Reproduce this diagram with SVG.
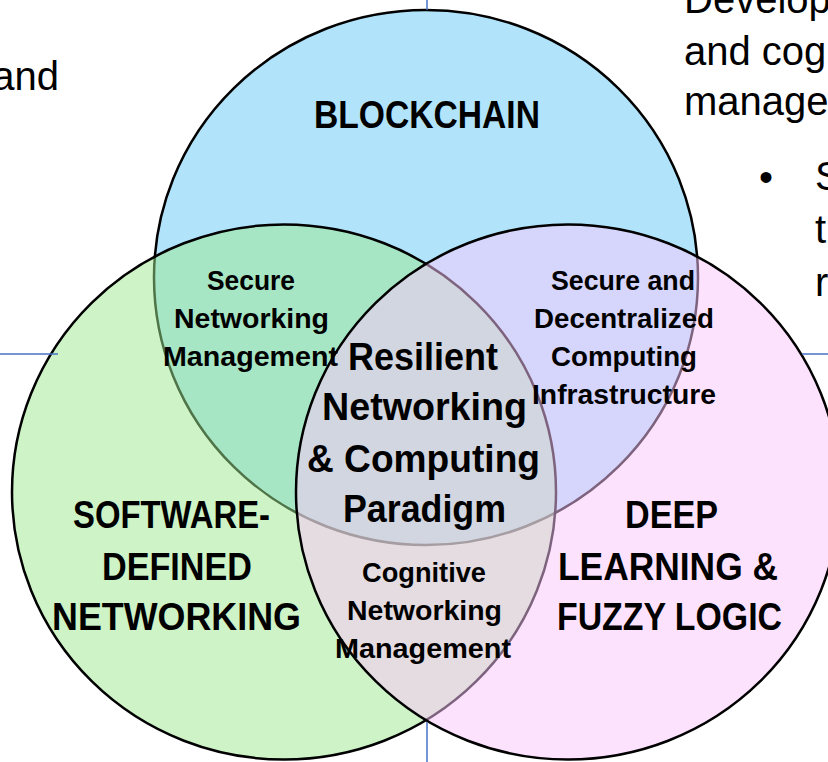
<svg xmlns="http://www.w3.org/2000/svg" width="828" height="762" viewBox="0 0 828 762">
<style>
.c{stroke:#000;stroke-width:2.5}
.big{font-family:"Liberation Sans",Arial,sans-serif;font-weight:bold;font-size:38px;text-anchor:middle;fill:#000}
.small{font-family:"Liberation Sans",Arial,sans-serif;font-weight:bold;font-size:28px;text-anchor:middle;fill:#000}
.body{font-family:"Liberation Sans",Arial,sans-serif;font-size:40px;fill:#000}
.axis{stroke:#4472C4;stroke-width:1.5;fill:none}
</style>
<rect width="828" height="762" fill="#fff"/>
<g id="side-text">
<text class="body" x="59" y="90" text-anchor="end" font-size="38">and</text>
<text class="body" x="684" y="13">Develop</text>
<text class="body" x="684" y="65">and cog</text>
<text class="body" x="684" y="115">manage</text>
<text class="body" x="759" y="191">•</text>
<text class="body" x="815" y="190">S</text>
<text class="body" x="815" y="243">t</text>
<text class="body" x="815" y="296">r</text>
</g>
<g id="node-blockchain">
<ellipse class="c" cx="426" cy="277.5" rx="272" ry="267.5" fill="#B1E4FB"/>
</g>
<g id="node-sdn">
<ellipse class="c" cx="284" cy="492" rx="272" ry="267.5" fill="rgb(155,231,141)" fill-opacity="0.5"/>
</g>
<g id="node-dl">
<ellipse class="c" cx="568" cy="492" rx="272" ry="267.5" fill="rgb(251,197,251)" fill-opacity="0.5"/>
</g>
<g id="connectors">
<line class="axis" x1="427" y1="0" x2="427" y2="10"/>
<line class="axis" x1="427" y1="722" x2="427" y2="762"/>
<line class="axis" x1="0" y1="354" x2="58" y2="354"/>
<line class="axis" x1="802" y1="354" x2="828" y2="354"/>
</g>
<g id="label-blockchain">
<text class="big" x="427" y="128" textLength="226" lengthAdjust="spacingAndGlyphs">BLOCKCHAIN</text>
</g>
<g id="label-sdn">
<text class="big" x="171.5" y="528" textLength="197" lengthAdjust="spacingAndGlyphs">SOFTWARE-</text>
<text class="big" x="177" y="580" textLength="150" lengthAdjust="spacingAndGlyphs">DEFINED</text>
<text class="big" x="176.5" y="630" textLength="249" lengthAdjust="spacingAndGlyphs">NETWORKING</text>
</g>
<g id="label-dl">
<text class="big" x="671.5" y="528" textLength="93" lengthAdjust="spacingAndGlyphs">DEEP</text>
<text class="big" x="668" y="580" textLength="220" lengthAdjust="spacingAndGlyphs">LEARNING &amp;</text>
<text class="big" x="669.5" y="630" textLength="225" lengthAdjust="spacingAndGlyphs">FUZZY LOGIC</text>
</g>
<g id="node-center">
<text class="big" x="423" y="370" textLength="150" lengthAdjust="spacingAndGlyphs">Resilient</text>
<text class="big" x="424.5" y="420" textLength="205" lengthAdjust="spacingAndGlyphs">Networking</text>
<text class="big" x="423.5" y="472" textLength="233" lengthAdjust="spacingAndGlyphs">&amp; Computing</text>
<text class="big" x="424.5" y="522" textLength="163" lengthAdjust="spacingAndGlyphs">Paradigm</text>
</g>
<g id="node-secure-networking">
<text class="small" x="251" y="290" textLength="88" lengthAdjust="spacingAndGlyphs">Secure</text>
<text class="small" x="251.5" y="328" textLength="155" lengthAdjust="spacingAndGlyphs">Networking</text>
<text class="small" x="250.5" y="366" textLength="175" lengthAdjust="spacingAndGlyphs">Management</text>
</g>
<g id="node-secure-decentralized">
<text class="small" x="623" y="290" textLength="144" lengthAdjust="spacingAndGlyphs">Secure and</text>
<text class="small" x="624" y="328" textLength="180" lengthAdjust="spacingAndGlyphs">Decentralized</text>
<text class="small" x="624" y="366" textLength="146" lengthAdjust="spacingAndGlyphs">Computing</text>
<text class="small" x="624" y="404" textLength="184" lengthAdjust="spacingAndGlyphs">Infrastructure</text>
</g>
<g id="node-cognitive">
<text class="small" x="424" y="582" textLength="124" lengthAdjust="spacingAndGlyphs">Cognitive</text>
<text class="small" x="424.5" y="620" textLength="155" lengthAdjust="spacingAndGlyphs">Networking</text>
<text class="small" x="423" y="658" textLength="176" lengthAdjust="spacingAndGlyphs">Management</text>
</g>
</svg>
